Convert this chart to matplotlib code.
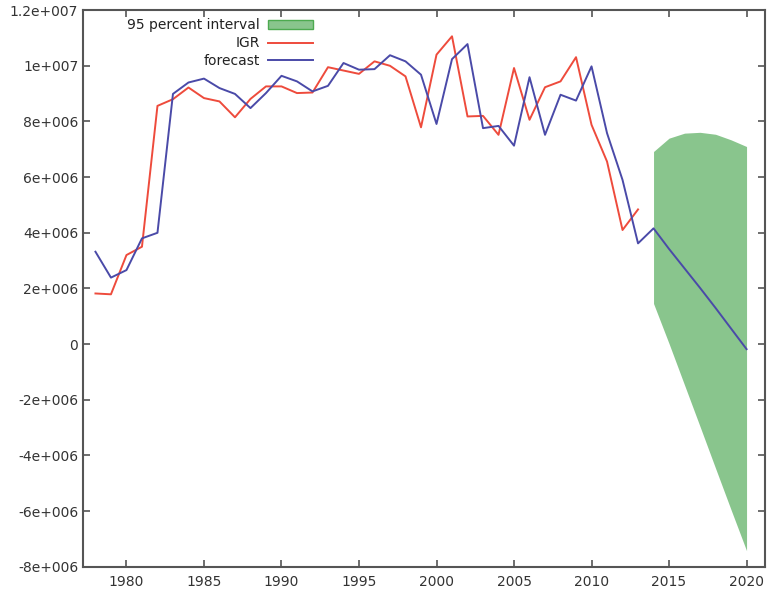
import matplotlib
matplotlib.use('Agg')
import matplotlib.pyplot as plt
from matplotlib.ticker import FuncFormatter, MultipleLocator
from matplotlib.patches import Patch
from matplotlib.lines import Line2D

# observed series (IGR) 1978-2013
igr_years = list(range(1978, 2014))
igr_values = [1.82e6, 1.79e6, 3.20e6, 3.50e6, 8.56e6, 8.80e6, 9.22e6, 8.84e6, 8.72e6, 8.15e6,
              8.81e6, 9.26e6, 9.26e6, 9.02e6, 9.04e6, 9.95e6, 9.83e6, 9.71e6, 10.16e6, 10.0e6,
              9.62e6, 7.79e6, 10.40e6, 11.06e6, 8.18e6, 8.20e6, 7.52e6, 9.92e6, 8.06e6, 9.23e6,
              9.44e6, 10.31e6, 7.88e6, 6.56e6, 4.10e6, 4.84e6]

# fitted + forecast series 1978-2020
fc_years = list(range(1978, 2021))
fc_values = [3.32e6, 2.39e6, 2.66e6, 3.80e6, 4.00e6, 8.99e6, 9.40e6, 9.54e6, 9.20e6, 8.99e6,
             8.48e6, 9.02e6, 9.64e6, 9.44e6, 9.08e6, 9.28e6, 10.10e6, 9.86e6, 9.88e6, 10.38e6,
             10.16e6, 9.68e6, 7.91e6, 10.24e6, 10.78e6, 7.76e6, 7.84e6, 7.13e6, 9.59e6, 7.52e6,
             8.96e6, 8.75e6, 9.98e6, 7.58e6, 5.90e6, 3.62e6, 4.16e6, 3.42e6, 2.72e6, 2.02e6,
             1.30e6, 0.56e6, -0.18e6]

# 95 percent interval 2014-2020
band_years = list(range(2014, 2021))
band_upper = [6.92e6, 7.40e6, 7.58e6, 7.61e6, 7.54e6, 7.34e6, 7.10e6]
band_lower = [1.46e6, 0.02e6, -1.47e6, -2.96e6, -4.46e6, -5.95e6, -7.42e6]

RED = '#ee4b3c'
BLUE = '#4a4aa8'
GREEN = '#89c58d'
SPINE = '#555555'


def gnuplot_fmt(v, pos):
    # gnuplot on windows prints three digit exponents
    if v == 0:
        return '0'
    s = '%g' % v
    mant, exp = s.split('e')
    sign = exp[0]
    return '%se%s%03d' % (mant, sign, int(exp[1:]))


fig = plt.figure(figsize=(7.69, 5.96), dpi=100)
ax = fig.add_axes([0.108, 0.049, 0.887, 0.934])

ax.fill_between(band_years, band_lower, band_upper, color=GREEN, linewidth=0)
ax.plot(igr_years, igr_values, color=RED, lw=1.4)
ax.plot(fc_years, fc_values, color=BLUE, lw=1.4)

ax.set_xlim(1977.2, 2021.2)
ax.set_ylim(-8e6, 1.2e7)
ax.xaxis.set_major_locator(MultipleLocator(5))
ax.yaxis.set_major_locator(MultipleLocator(2e6))
ax.yaxis.set_major_formatter(FuncFormatter(gnuplot_fmt))

for sp in ax.spines.values():
    sp.set_color(SPINE)
    sp.set_linewidth(1.5)
ax.tick_params(direction='in', length=5, width=1.2, color=SPINE, top=True, right=True,
               labelsize=10, labelcolor='#333333')
ax.tick_params(axis='x', pad=6)

handles = [Patch(facecolor=GREEN, edgecolor='#4daa50', linewidth=1.0),
           Line2D([], [], color=RED, lw=1.4),
           Line2D([], [], color=BLUE, lw=1.4)]
labels = ['95 percent interval', 'IGR', 'forecast']
ax.legend(handles, labels, loc='upper right', bbox_to_anchor=(0.353, 1.005), frameon=False,
          markerfirst=False, fontsize=10, handlelength=3.2, handleheight=0.6,
          labelspacing=0.27, borderpad=0.3, handletextpad=0.6, labelcolor='#222222')

fig.savefig('out.png', dpi=100)
